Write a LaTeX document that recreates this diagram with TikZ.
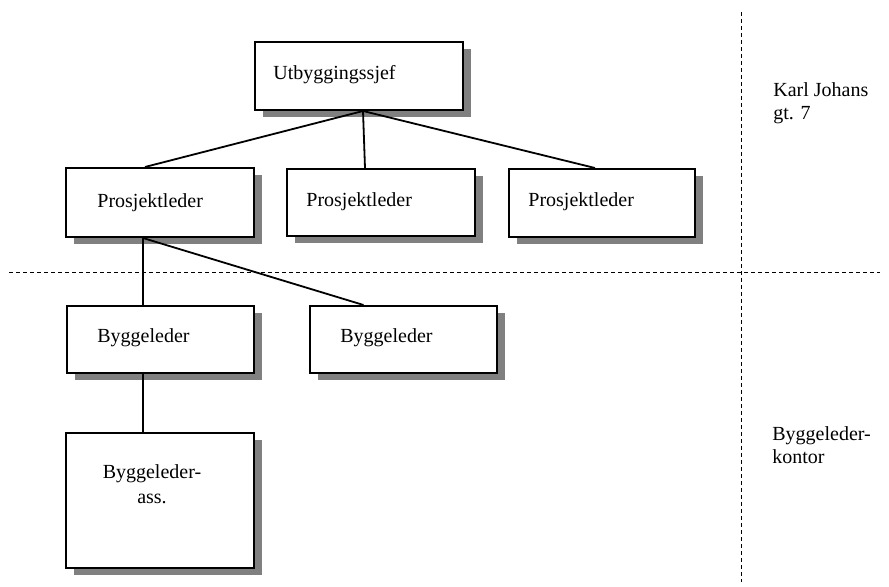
\documentclass[tikz,border=0pt]{standalone}
\usepackage{fontspec}
\setmainfont{Liberation Serif}
\usetikzlibrary{shadows}
\definecolor{shadowgray}{HTML}{808080}
\begin{document}
\begin{tikzpicture}[x=0.5pt,y=-0.5pt,
  orgbox/.style={draw, line width=1pt, fill=white, rectangle, inner sep=0pt,
    drop shadow={shadow xshift=4pt, shadow yshift=-3.5pt, fill=shadowgray, opacity=1}},
  lbl/.style={anchor=base west, inner sep=0pt, font=\fontsize{10pt}{12pt}\selectfont},
  lblc/.style={anchor=base, inner sep=0pt, font=\fontsize{10pt}{12pt}\selectfont},
  conn/.style={line width=0.9pt},
  divider/.style={line width=0.5pt, dash pattern=on 2pt off 1.5pt}]
\useasboundingbox (0,0) rectangle (889,587);

% dividers
\coordinate (hl) at (9,273);
\coordinate (hr) at (880,273);
\coordinate (vt) at (741,12);
\coordinate (vb) at (741,582);
\draw[divider] (hl) -- (hr);
\draw[divider] (vt) -- (vb);

% boxes
\node[orgbox, minimum width=104pt, minimum height=34pt] (U) at (359,76) {};
\node[orgbox, minimum width=94pt, minimum height=34.5pt] (P1) at (160,202.5) {};
\node[orgbox, minimum width=94pt, minimum height=33.5pt] (P2) at (381,202.5) {};
\node[orgbox, minimum width=93pt, minimum height=34pt] (P3) at (602,203) {};
\node[orgbox, minimum width=93.5pt, minimum height=33.5pt] (B1) at (160,339.5) {};
\node[orgbox, minimum width=93.5pt, minimum height=33.5pt] (B2) at (403.5,339.5) {};
\node[orgbox, minimum width=94pt, minimum height=67.5pt] (BA) at (160,500.5) {};

% connectors
\draw[conn] ([xshift=2pt]U.south) -- ([xshift=-7.5pt]P1.north);
\draw[conn] ([xshift=2pt]U.south) -- ([xshift=-8pt]P2.north);
\draw[conn] ([xshift=2pt]U.south) -- ([xshift=-3.5pt]P3.north);
\draw[conn] ([xshift=-8.5pt]P1.south) -- ([xshift=-8.5pt]B1.north);
\draw[conn] ([xshift=-8.5pt]P1.south) -- ([xshift=-20pt]B2.north);
\draw[conn] ([xshift=-8.5pt]B1.south) -- ([xshift=-8.5pt]BA.north);

% texts
\node[lbl] (tU) at (273,80) {Utbyggingssjef};
\node[lbl] (tP1) at (97,208) {Prosjektleder};
\node[lbl] (tP2) at (306,207) {Prosjektleder};
\node[lbl] (tP3) at (528,207) {Prosjektleder};
\node[lbl] (tB1) at (97,343) {Byggeleder};
\node[lbl] (tB2) at (340,343) {Byggeleder};
\node[lblc] (tBA1) at (152,479) {Byggeleder-};
\node[lblc] (tBA2) at (152,503) {ass.};
\node[lbl] (tK1) at (773,97) {Karl Johans};
\node[lbl] (tK2) at (773,120) {gt. 7};
\node[lbl] (tBK1) at (772,441) {Byggeleder-};
\node[lbl] (tBK2) at (772,464) {kontor};
\end{tikzpicture}
\end{document}
